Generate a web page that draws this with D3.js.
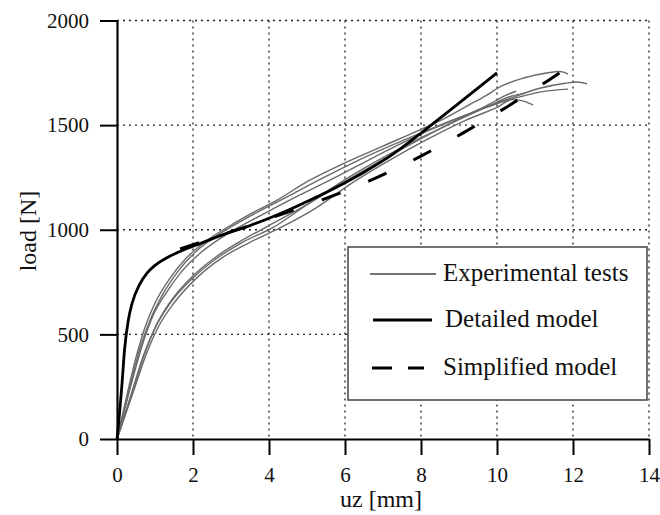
<!DOCTYPE html>
<html>
<head>
<meta charset="utf-8">
<script src="https://cdn.jsdelivr.net/npm/d3@7"></script>
<style>
  body { margin: 0; background: #fff; }
  svg text { font-family: "Liberation Serif", "DejaVu Serif", serif; fill: #111; }
</style>
</head>
<body>
<script>
// tick values
var xTicks = [0, 2, 4, 6, 8, 10, 12, 14];
var yTicks = [0, 500, 1000, 1500, 2000];

// experimental tests, [uz, load]
var test1 = [[0,0],[0.25,200],[0.5,390],[0.75,540],[1.0,650],[1.4,770],[1.8,860],[2.3,940],[2.8,1000],[3.5,1075],[4.2,1140],[5,1230],[6,1320],[7,1400],[8,1480],[8.6,1530],[9.3,1600],[9.7,1640],[10.1,1685],[10.7,1725],[11.3,1749],[11.66,1756],[11.87,1744]];
var test2 = [[0,0],[0.3,220],[0.6,430],[0.9,580],[1.2,690],[1.6,800],[2.1,900],[2.7,980],[3.5,1065],[4.5,1160],[5.5,1255],[6.5,1345],[7.5,1425],[8.5,1500],[9.5,1570],[10.3,1625],[11.1,1675],[11.8,1700],[12.1,1706],[12.37,1697]];
var test3 = [[0,0],[0.3,210],[0.65,440],[0.95,590],[1.3,700],[1.7,800],[2.2,890],[2.9,980],[3.8,1070],[4.8,1165],[5.8,1255],[6.8,1350],[7.8,1440],[8.8,1520],[9.8,1590],[10.6,1635],[11.2,1660],[11.87,1672]];
var test4 = [[0,0],[0.35,200],[0.7,400],[1.0,530],[1.4,650],[2.0,770],[2.6,860],[3.3,940],[4.1,1010],[5,1120],[6,1240],[7,1345],[8,1440],[8.7,1500],[9.4,1560],[10.0,1610],[10.4,1640],[10.74,1652]];
var test5 = [[0,0],[0.4,210],[0.8,420],[1.1,540],[1.5,650],[2.1,770],[2.8,870],[3.5,940],[4.3,1010],[5.2,1100],[6.2,1225],[7.2,1335],[8.2,1435],[9.2,1525],[10,1585],[10.4,1622],[10.7,1615],[10.95,1596]];
var test6 = [[0,0],[0.35,190],[0.75,420],[1.05,550],[1.5,680],[2.0,780],[2.6,870],[3.2,940],[4.0,1020],[5,1120],[6,1230],[7,1335],[8,1435],[9,1530],[9.8,1600],[10.2,1640],[10.5,1662]];
var tests = [test1, test2, test3, test4, test5, test6];

// detailed model
var detailed = [[0,0],[0.08,150],[0.13,260],[0.2,430],[0.3,570],[0.4,650],[0.6,740],[0.8,795],[1.0,830],[1.3,865],[1.7,900],[2.2,935],[2.9,984],[3.5,1020],[4.0,1055],[4.5,1093],[5.0,1135],[5.5,1178],[6.0,1225],[6.5,1275],[7.0,1330],[7.5,1393],[8.0,1462],[9.0,1605],[10.0,1750]];

// simplified model
var simplified = [[1.66,908],[3,990],[4.5,1085],[5.5,1150],[6.7,1238],[8,1352],[9.1,1462],[10.26,1587],[11.37,1716],[11.7,1756]];

var legendItems = ["Experimental tests", "Detailed model", "Simplified model"];

var W = 660, H = 515;
var svg = d3.select("body").append("svg").attr("width", W).attr("height", H);

var x = d3.scaleLinear().domain([0, 14]).range([117, 649]);
var y = d3.scaleLinear().domain([0, 2000]).range([439, 20.5]);

// grid
var grid = svg.append("g").attr("class", "grid")
  .style("stroke", "#222").style("stroke-width", 1.3).style("stroke-dasharray", "2,4");
grid.selectAll(".vg").data(xTicks.filter(function(d){ return d > 0; })).enter().append("line")
  .attr("x1", function(d){ return x(d); }).attr("x2", function(d){ return x(d); })
  .attr("y1", y(2000)).attr("y2", y(0));
grid.selectAll(".hg").data(yTicks.filter(function(d){ return d > 0; })).enter().append("line")
  .attr("x1", x(0)).attr("x2", x(14))
  .attr("y1", function(d){ return y(d); }).attr("y2", function(d){ return y(d); });

var line = d3.line().x(function(d){ return x(d[0]); }).y(function(d){ return y(d[1]); }).curve(d3.curveMonotoneX);

// experimental curves
svg.append("g").selectAll("path").data(tests).enter().append("path")
  .attr("d", line)
  .style("fill", "none").style("stroke", "#6a6a6a").style("stroke-width", 1.4);

svg.append("path").attr("d", line(detailed))
  .style("fill", "none").style("stroke", "#000").style("stroke-width", 2.8);

svg.append("path").attr("d", line(simplified))
  .style("fill", "none").style("stroke", "#000").style("stroke-width", 3)
  .style("stroke-dasharray", "20,30");

// legend
var lg = svg.append("g").attr("class", "legend");
lg.append("rect").attr("x", 348).attr("y", 247).attr("width", 299).attr("height", 153)
  .style("fill", "#fff").style("stroke", "#444").style("stroke-width", 1.5);
var legY = [274, 320, 368];
lg.append("line").attr("x1", 370).attr("x2", 436).attr("y1", legY[0]).attr("y2", legY[0])
  .style("stroke", "#444").style("stroke-width", 1.5);
lg.append("line").attr("x1", 373).attr("x2", 432).attr("y1", legY[1]).attr("y2", legY[1])
  .style("stroke", "#000").style("stroke-width", 3.2);
lg.append("line").attr("x1", 372).attr("x2", 424).attr("y1", legY[2]).attr("y2", legY[2])
  .style("stroke", "#000").style("stroke-width", 3.2).style("stroke-dasharray", "20,16");
lg.selectAll("text").data(legendItems).enter().append("text")
  .attr("x", function(d, i){ return i == 1 ? 445 : 443; })
  .attr("y", function(d, i){ return legY[i] + 7; })
  .style("font-size", "25px")
  .text(function(d){ return d; });

// axes
var xAxis = d3.axisBottom(x).tickValues(xTicks).tickSize(16).tickSizeOuter(0).tickPadding(12).tickFormat(d3.format("d"));
var yAxis = d3.axisLeft(y).tickValues(yTicks).tickSize(17).tickSizeOuter(0).tickPadding(11).tickFormat(d3.format("d"));

var gx = svg.append("g").attr("transform", "translate(0," + y(0) + ")").call(xAxis);
var gy = svg.append("g").attr("transform", "translate(" + x(0) + ",0)").call(yAxis);
[gx, gy].forEach(function(g){
  g.select(".domain").style("stroke", "#000").style("stroke-width", 2.2);
  g.selectAll(".tick line").style("stroke", "#000").style("stroke-width", 2);
  g.selectAll(".tick text").style("font-size", "21px").style("font-family", "Liberation Serif, serif").style("fill", "#111");
});

svg.append("text").attr("x", 381).attr("y", 507).attr("text-anchor", "middle")
  .style("font-size", "24px").text("uz [mm]");
svg.append("text").attr("transform", "translate(36,231) rotate(-90)").attr("text-anchor", "middle")
  .style("font-size", "24px").text("load [N]");
</script>
</body>
</html>
